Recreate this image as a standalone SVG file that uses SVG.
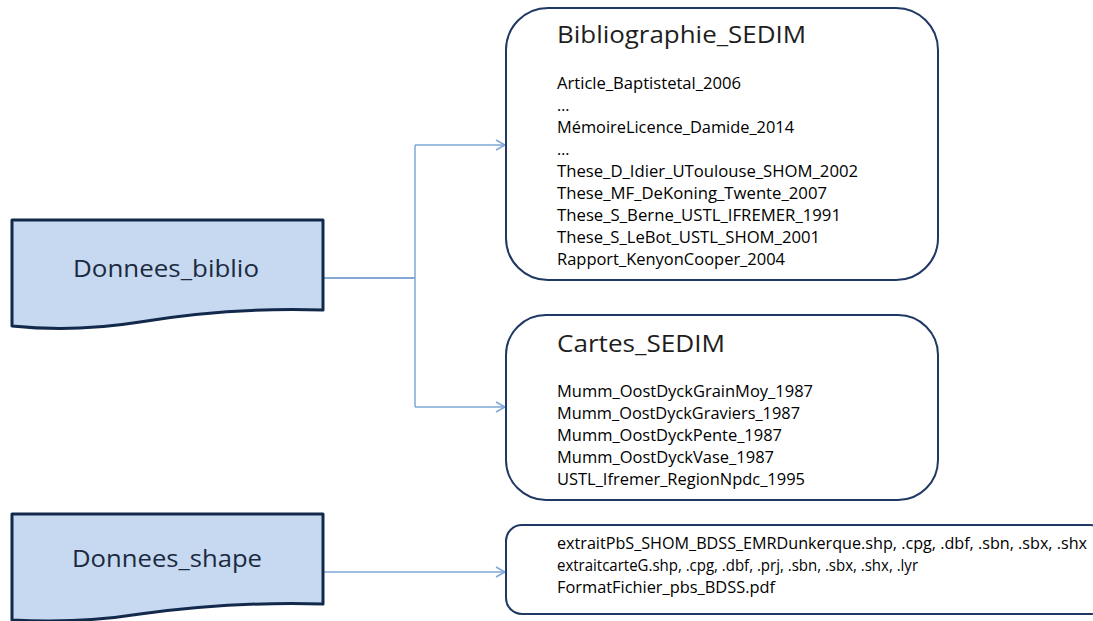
<svg xmlns="http://www.w3.org/2000/svg" width="1093" height="621" viewBox="0 0 1093 621">
<style>
.doc{fill:#C6D9F0;stroke:#13294B;stroke-width:3;stroke-linejoin:round}
.box{fill:#fff;stroke:#1F3864;stroke-width:2}
.lbl{font-family:"Open Sans","Liberation Sans",sans-serif;font-size:24px;fill:#1B2A40}
.ttl{font-family:"Open Sans","Liberation Sans",sans-serif;font-size:24px;fill:#1E1E1E}
.itm{font-family:"Open Sans","Liberation Sans",sans-serif;font-size:16px;fill:#000}
.con{fill:none;stroke:#7FA6D9;stroke-width:1.5}
</style>
<defs>
<marker id="arr" markerWidth="12" markerHeight="12" refX="10" refY="6" orient="auto" markerUnits="userSpaceOnUse">
<path d="M1,1 L10,6 L1,11" fill="none" stroke="#7FA6D9" stroke-width="1.5"/>
</marker>
</defs>
<g id="connectors">
<path class="con" d="M323,278 H415" style="stroke:#5B8BC9"/>
<path class="con" d="M415,145 V407"/>
<path class="con" d="M415,145 H505" marker-end="url(#arr)"/>
<path class="con" d="M415,407 H505" marker-end="url(#arr)"/>
<path class="con" d="M323,572 H505" marker-end="url(#arr)"/>
</g>
<g id="donnees_biblio">
<path class="doc" d="M12,220 H323 V310 C260,308 200,312 140,322 C90,330 50,330 12,326 Z"/>
<text class="lbl" x="166" y="277" text-anchor="middle" textLength="186" lengthAdjust="spacingAndGlyphs">Donnees_biblio</text>
</g>
<g id="donnees_shape">
<path class="doc" d="M12,514 H323 V604 C260,602 200,606 140,614 C90,622 50,622 12,620 Z"/>
<text class="lbl" x="167" y="567" text-anchor="middle" textLength="190" lengthAdjust="spacingAndGlyphs">Donnees_shape</text>
</g>
<g id="bibliographie_sedim">
<rect class="box" x="506" y="8" width="432" height="272" rx="42" ry="42"/>
<text class="ttl" x="557" y="43" textLength="249" lengthAdjust="spacingAndGlyphs">Bibliographie_SEDIM</text>
<text class="itm" x="557" y="89" textLength="184" lengthAdjust="spacingAndGlyphs">Article_Baptistetal_2006</text>
<text class="itm" x="557" y="111">…</text>
<text class="itm" x="557" y="133" textLength="237" lengthAdjust="spacingAndGlyphs">MémoireLicence_Damide_2014</text>
<text class="itm" x="557" y="155">…</text>
<text class="itm" x="557" y="177" textLength="301" lengthAdjust="spacingAndGlyphs">These_D_Idier_UToulouse_SHOM_2002</text>
<text class="itm" x="557" y="199" textLength="270" lengthAdjust="spacingAndGlyphs">These_MF_DeKoning_Twente_2007</text>
<text class="itm" x="557" y="221" textLength="284" lengthAdjust="spacingAndGlyphs">These_S_Berne_USTL_IFREMER_1991</text>
<text class="itm" x="557" y="243" textLength="263" lengthAdjust="spacingAndGlyphs">These_S_LeBot_USTL_SHOM_2001</text>
<text class="itm" x="557" y="265" textLength="228" lengthAdjust="spacingAndGlyphs">Rapport_KenyonCooper_2004</text>
</g>
<g id="cartes_sedim">
<rect class="box" x="506" y="315" width="432" height="185" rx="40" ry="40"/>
<text class="ttl" x="557" y="352" textLength="168" lengthAdjust="spacingAndGlyphs">Cartes_SEDIM</text>
<text class="itm" x="557" y="397" textLength="256" lengthAdjust="spacingAndGlyphs">Mumm_OostDyckGrainMoy_1987</text>
<text class="itm" x="557" y="419" textLength="243" lengthAdjust="spacingAndGlyphs">Mumm_OostDyckGraviers_1987</text>
<text class="itm" x="557" y="441" textLength="225" lengthAdjust="spacingAndGlyphs">Mumm_OostDyckPente_1987</text>
<text class="itm" x="557" y="463" textLength="217" lengthAdjust="spacingAndGlyphs">Mumm_OostDyckVase_1987</text>
<text class="itm" x="557" y="485" textLength="248" lengthAdjust="spacingAndGlyphs">USTL_Ifremer_RegionNpdc_1995</text>
</g>
<g id="shape_files">
<rect class="box" x="506" y="525" width="600" height="89" rx="16" ry="16"/>
<text class="itm" x="557" y="549" textLength="530" lengthAdjust="spacingAndGlyphs">extraitPbS_SHOM_BDSS_EMRDunkerque.shp, .cpg, .dbf, .sbn, .sbx, .shx</text>
<text class="itm" x="557" y="571" textLength="361" lengthAdjust="spacingAndGlyphs">extraitcarteG.shp, .cpg, .dbf, .prj, .sbn, .sbx, .shx, .lyr</text>
<text class="itm" x="557" y="593" textLength="218" lengthAdjust="spacingAndGlyphs">FormatFichier_pbs_BDSS.pdf</text>
</g>
</svg>
